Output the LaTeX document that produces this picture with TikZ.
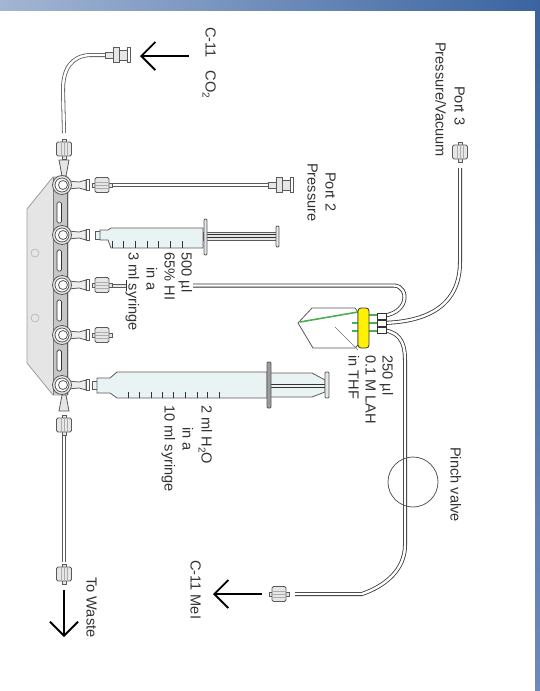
\documentclass[tikz,border=0pt]{standalone}
\usepackage{fontspec}
\setmainfont{Liberation Sans}
\usetikzlibrary{arrows.meta}
\definecolor{ink}{HTML}{333333}
\definecolor{part}{HTML}{5A5A5A}
\definecolor{nutfill}{HTML}{E6E6E6}
\definecolor{barrel}{HTML}{EAF3F4}
\definecolor{bandL}{RGB}{163,181,211}
\definecolor{bandR}{RGB}{58,100,160}
\definecolor{bandB}{RGB}{110,137,187}
\definecolor{liquid}{RGB}{76,175,80}
\tikzset{
  x=1pt,y=-1pt,
  lab/.style={rotate=-90,anchor=west,inner sep=0pt,text=ink,text height=10pt,text depth=3pt,font=\fontsize{14.6}{14.6}\selectfont},
  tube/.style={draw=ink,line width=.8pt,double=white,double distance=2.4pt},
  thin tube/.style={draw=part,line width=.8pt,double=white,double distance=2.4pt},
  flowarrow/.style={line width=1.9pt,black,-{Straight Barb[length=14pt,width=28pt,line width=1.9pt]}},
  fit/.style={draw=part,line width=.8pt,fill=nutfill},
  pics/nut/.style={code={
    \draw[fit] (-10,-2) rectangle (10,2);
    \draw[fit,rounded corners=1.5pt] (-7,-7.5) rectangle (7,7.5);
    \draw[part!50,line width=.4pt] (-7,-3)--(7,-3) (-7,0)--(7,0) (-7,3)--(7,3);
  }},
  pics/endfit/.style={code={
    \draw[fit] (0,-3) rectangle (8,3);
    \draw[fit] (8,-7.5) rectangle (14,7.5);
    \draw[fit] (14,-5) rectangle (22,5);
    \draw[fit,fill=white] (22,-7.5) rectangle (25,7.5);
  }},
  pics/cock/.style={code={
    \draw[fit,fill=nutfill!70] (6,-4) -- (17,-3) -- (24,-5) -- (24,5) -- (17,3) -- (6,4) -- cycle;
    \draw[fit,fill=white] (24,-5.5) rectangle (27,5.5);
    \draw[part,fill=nutfill,line width=.8pt] (0,0) circle (9.5);
    \draw[part,fill=white,line width=.8pt] (0,0) circle (7);
    \draw[part,fill=white,line width=.8pt] (1,0) circle (4.5);
  }},
}
\begin{document}
\begin{tikzpicture}
\useasboundingbox (0,0) rectangle (540,691);
% page frame
\fill[white] (0,0) rectangle (540,691);
\fill[left color=bandL, right color=bandR] (0,0) rectangle (540,10);
\fill[top color=bandR, bottom color=bandB] (535,10) rectangle (540,691);

% coordinates
\coordinate (co2end) at (105,55);
\coordinate (mantop) at (64,133);
\coordinate (p2a) at (105,185);
\coordinate (p2b) at (268,185);
\coordinate (hi) at (193,285.5);
\coordinate (vialA) at (378,316);
\coordinate (vialB) at (378,323);
\coordinate (vialC) at (378,330);
\coordinate (p3end) at (460,168);
\coordinate (meiend) at (295,594);
\coordinate (wasteA) at (64,432);
\coordinate (wasteB) at (64,562);

% manifold plate
\draw[part!60,fill=black!10,line width=.8pt] (53,177) -- (27,209) -- (27,363) -- (53,395) -- (68,395) -- (68,177) -- cycle;
\fill[black!22] (54,178) rectangle (67,394);
\draw[part!80,line width=.7pt] (53,177) -- (53,395);
\draw[part,line width=.8pt] (67.5,177) -- (67.5,395);
\foreach \yy in {202,250,300,350}
  \draw[ink,fill=white,line width=.7pt,rounded corners=1.5pt] (57,\yy) rectangle (61.5,\yy+21);
\draw[black!30,line width=.6pt] (35,253) circle (4);
\draw[black!30,line width=.6pt] (35,318) circle (4);

% tubes
\draw[thin tube] (co2end) -- (90,55) .. controls (72,56) and (63,68) .. (63,90) -- (mantop);
\draw[thin tube] (p2a) -- (p2b);
\draw[tube] (hi) -- (394,285.5) .. controls (410,286) and (410,316) .. (vialA);
\draw[tube] (p3end) -- (460,262) .. controls (460,300) and (435,323) .. (vialB);
\draw[tube] (vialC) .. controls (398,330) and (405,340) .. (405,360) -- (405,545) .. controls (405,570) and (385,586) .. (362,594) -- (meiend);
\draw[thin tube] (wasteA) -- (wasteB);

% top arm and bottom arm of manifold
\draw[fit] (59,160) -- (69,160) -- (66,176) -- (62,176) -- cycle;
\pic[rotate=90] at (64,149) {nut};
\draw[fit] (59,411) -- (69,411) -- (66,395) -- (62,395) -- cycle;
\pic[rotate=90] at (64,425) {nut};
\pic[rotate=90] at (64,574) {nut};

% stopcocks
\foreach \yy in {185,235,285,335,385}
  \pic at (62,\yy) {cock};

% nuts on side ports
\pic at (102,185) {nut};
\pic at (102,285) {nut};
\pic at (102,335) {nut};
\draw[fit] (112,284) rectangle (126,287.5);
\draw[ink,line width=.8pt] (126.5,280) -- (126.5,291);
\pic at (105,55) {endfit};
\pic at (268,185) {endfit};
\pic[rotate=90] at (460,152) {nut};
\pic at (279,594) {nut};

% syringe 1
\draw[fit,fill=barrel] (95,231) rectangle (100,239);
\draw[fit,fill=barrel] (100,230) -- (108,230) -- (111,228) -- (203,228) -- (203,248) -- (111,248) -- (108,240) -- (100,240) -- cycle;
\foreach \xx in {112,123.5,135,147,158.5,170,182}
  \draw[ink,line width=.7pt] (\xx,248) -- (\xx,241);
\draw[fit] (203,232) rectangle (276,240);
\draw[ink,line width=.8pt] (205,234.5) -- (276,234.5) (205,237.5) -- (276,237.5);
\draw[fit,rounded corners=1pt] (204,219) rectangle (207,255);
\draw[fit,rounded corners=1pt] (276,226) rectangle (279,247);

% syringe 2
\draw[fit,fill=barrel] (92,381) rectangle (97,389);
\draw[fit,fill=barrel] (97,378) -- (110,378) -- (117,372) -- (267,372) -- (267,398) -- (117,398) -- (110,393) -- (97,393) -- cycle;
\foreach \xx in {128,139,151,162,173,185,197,207,219}
  \draw[ink,line width=.7pt] (\xx,398) -- (\xx,392);
\draw[part,line width=.8pt,fill=barrel] (270,373) -- (312,373) -- (325,380) -- (325,392) -- (312,397) -- (270,397) -- cycle;
\draw[ink,line width=.8pt] (270,384.5) -- (325,384.5) (270,387.5) -- (325,387.5);
\draw[fit,fill=part!60,rounded corners=1pt] (267,362) rectangle (271,408);
\draw[fit,rounded corners=1pt] (325,372) rectangle (329,398);

% vial
\draw[part,fill=white,line width=.8pt] (298,323) -- (312,308) -- (355,308) -- (358,312) -- (358,345) -- (355,348) -- (313,348) -- cycle;
\draw[black!55,line width=.6pt] (335,327) -- (358,350);
\draw[liquid,line width=1.6pt] (300,322) -- (358,312);
\draw[liquid,line width=1.6pt] (352,323) -- (358,323) (352,331) -- (358,331);
\draw[liquid,line width=1.6pt] (369,315) -- (378,315) (369,323) -- (378,323) (369,331) -- (378,331);
\foreach \yy in {316,323,330}
  \draw[ink,line width=.8pt,fill=white] (377,\yy-3) rectangle (386,\yy+3);
\draw[ink,fill=yellow,line width=.8pt,rounded corners=3pt] (358,308) rectangle (369,348);

% pinch valve
\node[draw=part,line width=.8pt,circle,minimum size=50pt,inner sep=0pt] (pinch) at (413,482) {};

% flow arrows
\coordinate (a1s) at (189,56); \coordinate (a1e) at (140,56);
\coordinate (a2s) at (262,594); \coordinate (a2e) at (213,594);
\coordinate (a3s) at (64,590); \coordinate (a3e) at (64,637);
\draw[flowarrow] (a1s) -- (a1e);
\draw[flowarrow] (a2s) -- (a2e);
\draw[flowarrow] (a3s) -- (a3e);

% labels
\node[lab] (tco) at (209,27) {C-11\hspace{13pt}CO\raisebox{-3pt}{\fontsize{10}{10}\selectfont 2}};
\node[lab] (tp2) at (329,172) {Port 2};
\node[lab] (tp2b) at (311,163) {Pressure};
\node[lab] (tp3) at (458,86) {Port 3};
\node[lab] (tp3b) at (439,42) {Pressure/Vacuum};
\node[lab] (t1a) at (185,252) {500 µl};
\node[lab] (t1b) at (168,252) {65\% HI};
\node[lab] (t1c) at (150,267) {in a};
\node[lab] (t1d) at (132,252) {3 ml syringe};
\node[lab] (t2a) at (205,405) {2 ml H\raisebox{-3pt}{\fontsize{10}{10}\selectfont 2}O};
\node[lab] (t2b) at (186,427) {in a};
\node[lab] (t2c) at (168,405) {10 ml syringe};
\node[lab] (t3a) at (386,355) {250 µl};
\node[lab] (t3b) at (369,355) {0.1 M LAH};
\node[lab] (t3c) at (352,355) {in THF};
\node[lab] (tpv) at (454,447) {Pinch valve};
\node[lab] (tmei) at (194,560) {C-11 MeI};
\node[lab] (twa) at (90,577) {To Waste};
\end{tikzpicture}
\end{document}
